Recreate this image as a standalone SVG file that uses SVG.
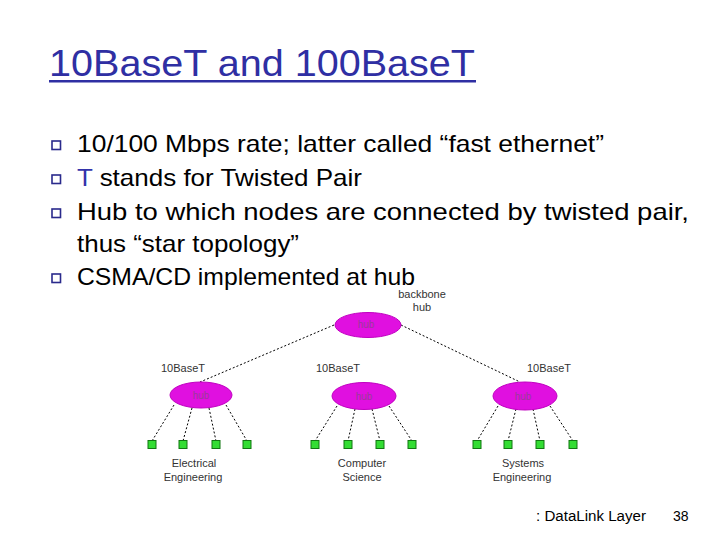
<svg xmlns="http://www.w3.org/2000/svg" width="720" height="540" viewBox="0 0 720 540">
<style>
.title{font-family:"Liberation Sans",Arial,sans-serif;font-size:36px;fill:#2f2fa3}
.bt{font-family:"Liberation Sans",Arial,sans-serif;font-size:24px;fill:#000}
.bul{fill:none;stroke:#2a2a8c;stroke-width:1.6}
.lbl{font-family:"Liberation Sans",Arial,sans-serif;font-size:11px;fill:#333;text-anchor:middle}
.hubt{font-family:"Liberation Sans",Arial,sans-serif;font-size:10px;fill:#9a3a9a;text-anchor:middle}
.hub{fill:#e010e0;stroke:#c000c0;stroke-width:1}
.pc{fill:#33dd33;stroke:#117711;stroke-width:1}
.ln{stroke:#000;stroke-width:1;stroke-dasharray:2,2;fill:none}
.foot{font-family:"Liberation Sans",Arial,sans-serif;font-size:14px;fill:#000}
</style>
<rect width="720" height="540" fill="#fff"/>
<g id="title">
<text class="title" x="49" y="76" textLength="426" lengthAdjust="spacingAndGlyphs">10BaseT and 100BaseT</text>
<rect x="49" y="80" width="427" height="2.5" fill="#2f2fa3"/>
</g>
<g id="bullets">
<rect class="bul" x="52" y="141" width="8.5" height="8.5"/>
<text class="bt" x="77" y="152" textLength="527" lengthAdjust="spacingAndGlyphs">10/100 Mbps rate; latter called “fast ethernet”</text>
<rect class="bul" x="52" y="175" width="8.5" height="8.5"/>
<text class="bt" x="77" y="186" textLength="285" lengthAdjust="spacingAndGlyphs"><tspan fill="#3333aa">T</tspan> stands for Twisted Pair</text>
<rect class="bul" x="52" y="209" width="8.5" height="8.5"/>
<text class="bt" x="77" y="220" textLength="612" lengthAdjust="spacingAndGlyphs">Hub to which nodes are connected by twisted pair,</text>
<text class="bt" x="77" y="252" textLength="222" lengthAdjust="spacingAndGlyphs">thus “star topology”</text>
<rect class="bul" x="52" y="274" width="8.5" height="8.5"/>
<text class="bt" x="77" y="285" textLength="338" lengthAdjust="spacingAndGlyphs">CSMA/CD implemented at hub</text>
</g>
<g id="connectors">
<line class="ln" x1="334" y1="325" x2="200" y2="382"/>
<line class="ln" x1="401" y1="325" x2="520" y2="382"/>
<line class="ln" x1="174" y1="405" x2="152" y2="441"/>
<line class="ln" x1="192" y1="408" x2="183" y2="441"/>
<line class="ln" x1="209" y1="408" x2="216" y2="441"/>
<line class="ln" x1="226" y1="405" x2="247" y2="441"/>
<line class="ln" x1="337" y1="406" x2="315" y2="441"/>
<line class="ln" x1="355" y1="409" x2="348" y2="441"/>
<line class="ln" x1="372" y1="409" x2="380" y2="441"/>
<line class="ln" x1="389" y1="406" x2="412" y2="441"/>
<line class="ln" x1="498" y1="406" x2="477" y2="441"/>
<line class="ln" x1="516" y1="409" x2="508" y2="441"/>
<line class="ln" x1="533" y1="409" x2="540" y2="441"/>
<line class="ln" x1="550" y1="406" x2="573" y2="441"/>
</g>
<g id="backbone-hub">
<ellipse class="hub" cx="368" cy="325" rx="33" ry="12.5"/>
<text class="hubt" x="366" y="328">hub</text>
<text class="lbl" x="422" y="298">backbone</text>
<text class="lbl" x="422" y="311">hub</text>
</g>
<g id="hub-ee">
<ellipse class="hub" cx="201" cy="395" rx="31" ry="13"/>
<text class="hubt" x="201" y="399">hub</text>
<text class="lbl" x="183" y="372">10BaseT</text>
</g>
<g id="hub-cs">
<ellipse class="hub" cx="364" cy="396" rx="32" ry="13.5"/>
<text class="hubt" x="364" y="400">hub</text>
<text class="lbl" x="338" y="372">10BaseT</text>
</g>
<g id="hub-se">
<ellipse class="hub" cx="525" cy="396" rx="32" ry="14"/>
<text class="hubt" x="523" y="400">hub</text>
<text class="lbl" x="549" y="372">10BaseT</text>
</g>
<g id="nodes-ee">
<rect class="pc" x="148" y="440.5" width="8" height="8"/>
<rect class="pc" x="179" y="440.5" width="8" height="8"/>
<rect class="pc" x="212" y="440.5" width="8" height="8"/>
<rect class="pc" x="243" y="440.5" width="8" height="8"/>
<text class="lbl" x="194" y="467">Electrical</text>
<text class="lbl" x="193" y="481">Engineering</text>
</g>
<g id="nodes-cs">
<rect class="pc" x="311" y="440.5" width="8" height="8"/>
<rect class="pc" x="344" y="440.5" width="8" height="8"/>
<rect class="pc" x="376" y="440.5" width="8" height="8"/>
<rect class="pc" x="408" y="440.5" width="8" height="8"/>
<text class="lbl" x="362" y="467">Computer</text>
<text class="lbl" x="362" y="481">Science</text>
</g>
<g id="nodes-se">
<rect class="pc" x="473" y="440.5" width="8" height="8"/>
<rect class="pc" x="504" y="440.5" width="8" height="8"/>
<rect class="pc" x="536" y="440.5" width="8" height="8"/>
<rect class="pc" x="569" y="440.5" width="8" height="8"/>
<text class="lbl" x="523" y="467">Systems</text>
<text class="lbl" x="522" y="481">Engineering</text>
</g>
<g id="footer">
<text class="foot" x="536" y="521" textLength="110" lengthAdjust="spacingAndGlyphs">: DataLink Layer</text>
<text class="foot" x="673" y="521">38</text>
</g>
</svg>
